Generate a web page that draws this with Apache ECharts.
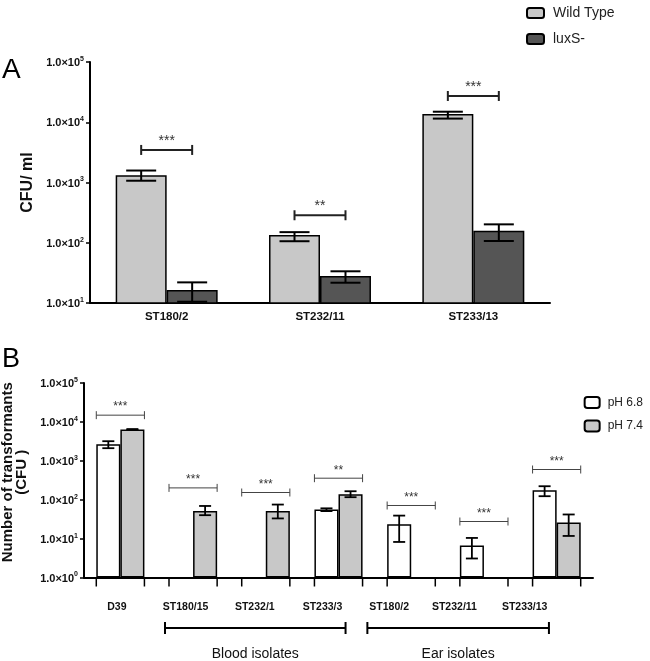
<!DOCTYPE html>
<html><head><meta charset="utf-8">
<script src="https://cdn.jsdelivr.net/npm/echarts@6/dist/echarts.min.js"></script>
<style>html,body{margin:0;padding:0;background:#fff}#c{width:650px;height:661px}</style>
</head><body><div id="c"></div>
<script>
// ---------- Panel A data ----------
const catsA = ['ST180/2', 'ST232/11', 'ST233/13'];
const wildType = [1320, 135, 13700];
const wildTypeErr = [[1070, 1580], [106, 150], [11500, 14960]];
const luxS = [16.4, 28, 158];
const luxSErr = [[10.5, 22], [21.7, 33.6], [107, 202]];
const sigA = ['***', '**', '***'];
const sigAHeight = [3470, 286, 27300];

// ---------- Panel B data ----------
const catsB = ['D39', 'ST180/15', 'ST232/1', 'ST233/3', 'ST180/2', 'ST232/11', 'ST233/13'];
const ph68 = [2670, null, null, 56, 23.5, 6.65, 175];
const ph68Err = [[2110, 3190], null, null, [51, 60], [8.2, 39], [3.08, 10.4], [123, 222]];
const ph74 = [6380, 51.5, 51.5, 138, null, null, 26];
const ph74Err = [[6200, 6550], [40, 69], [33, 75], [116, 165], null, null, [11.7, 41.7]];
const sigB = ['***', '***', '***', '**', '***', '***', '***'];
const sigBHeight = [14900, 201, 153, 357, 71, 27.5, 597];
const groupNames = ['Blood isolates', 'Ear isolates'];
const groupFrom = [1, 4];
const groupTo = [3, 6];

// ---------- styling constants ----------
const GAP_A = 0.335, GAP_B = 0.338;
const labelShiftB = [3.5, 7.5, 11, 16, 22, 29.5, 32];
const groupOffsets = [[-0.386, 0.097], [-0.603, -0.106]];
const FONT = 'Liberation Sans, Arial, sans-serif';

function yFmt(v) {
  const e = Math.round(Math.log10(v));
  return '{b|1.0×10}{s|' + e + '}';
}
const yRich = {
  b: { fontFamily: FONT, fontWeight: 'bold', fontSize: 11, color: '#111', lineHeight: 13, verticalAlign: 'bottom' },
  s: { fontFamily: FONT, fontWeight: 'bold', fontSize: 7, color: '#111', lineHeight: 13, verticalAlign: 'top' }
};

function errSeries(errs, xi, yi, side, gap, capW, lw) {
  const data = [];
  errs.forEach((e, i) => { if (e) data.push([i, e[0], e[1]]); });
  return {
    type: 'custom', xAxisIndex: xi, yAxisIndex: yi, z: 5, silent: true,
    data: data, encode: { x: 0, y: [1, 2] },
    renderItem(params, api) {
      const i = api.value(0);
      const p1 = api.coord([i, api.value(1)]);
      const p2 = api.coord([i, api.value(2)]);
      const cw = api.size([1, 1])[0];
      const bw = cw * (1 - gap) / 2;
      const x = p1[0] + side * bw / 2;
      const st = { stroke: '#000', lineWidth: lw };
      return { type: 'group', children: [
        { type: 'line', shape: { x1: x, y1: p1[1], x2: x, y2: p2[1] }, style: st },
        { type: 'line', shape: { x1: x - capW / 2, y1: p1[1], x2: x + capW / 2, y2: p1[1] }, style: st },
        { type: 'line', shape: { x1: x - capW / 2, y1: p2[1], x2: x + capW / 2, y2: p2[1] }, style: st }
      ] };
    }
  };
}

function sigSeries(labels, heights, xi, yi, gap, spanFrac, capH, lw, color, fs, textGap, edgeTicks, yMin) {
  return {
    type: 'custom', xAxisIndex: xi, yAxisIndex: yi, z: 6, silent: true,
    data: heights.map((h, i) => [i, h]), encode: { x: 0, y: 1 },
    renderItem(params, api) {
      const i = api.value(0);
      const p = api.coord([i, api.value(1)]);
      const cw = api.size([1, 1])[0];
      const bw = cw * (1 - gap) / 2;
      const half = bw * spanFrac;
      const st = { stroke: color, lineWidth: lw };
      const ch = [
        { type: 'line', shape: { x1: p[0] - half, y1: p[1], x2: p[0] + half, y2: p[1] }, style: st },
        { type: 'line', shape: { x1: p[0] - half, y1: p[1] - capH, x2: p[0] - half, y2: p[1] + capH }, style: st },
        { type: 'line', shape: { x1: p[0] + half, y1: p[1] - capH, x2: p[0] + half, y2: p[1] + capH }, style: st },
        { type: 'text', x: p[0], y: p[1] - textGap, style: { text: labels[params.dataIndex], fill: '#333', font: fs + 'px ' + FONT, align: 'center', verticalAlign: 'bottom' } }
      ];
      if (edgeTicks) {
        const a = api.coord([i, yMin]);
        [-bw, bw].forEach(d => ch.push({ type: 'line', shape: { x1: a[0] + d, y1: a[1], x2: a[0] + d, y2: a[1] + 9 }, style: { stroke: '#000', lineWidth: 1.5 } }));
      }
      return { type: 'group', children: ch };
    }
  };
}

const chart = echarts.init(document.getElementById('c'), null, { renderer: 'canvas' });

const option = {
  animation: false,
  backgroundColor: '#fff',
  textStyle: { fontFamily: FONT },
  grid: [
    { left: 90, right: 100, top: 62, height: 241, containLabel: false, outerBoundsMode: 'none' },
    { left: 84, right: 57, top: 383, height: 194.5, containLabel: false, outerBoundsMode: 'none' }
  ],
  legend: [
    { data: ['Wild Type', 'luxS-'], orient: 'vertical', left: 521, top: 1, itemWidth: 17, itemHeight: 10, itemGap: 12,
      textStyle: { fontFamily: FONT, fontSize: 14, color: '#222', padding: [0, 0, 0, 4] }, icon: 'roundRect', selectedMode: false },
    { data: ['pH 6.8', 'pH 7.4'], orient: 'vertical', right: 2, top: 391, itemWidth: 15, itemHeight: 11, itemGap: 10.5,
      textStyle: { fontFamily: FONT, fontSize: 12, color: '#222', padding: [0, 0, 0, 3] }, icon: 'roundRect', selectedMode: false }
  ],
  xAxis: [
    { type: 'category', gridIndex: 0, data: catsA,
      axisLine: { lineStyle: { color: '#000', width: 2 } },
      axisTick: { alignWithLabel: true, length: 4, lineStyle: { color: '#000', width: 2 } },
      axisLabel: { fontFamily: FONT, fontWeight: 'bold', fontSize: 11.5, color: '#111', margin: 8 } },
    { type: 'category', gridIndex: 1, data: catsB,
      axisLine: { lineStyle: { color: '#000', width: 2 } },
      axisTick: { show: false },
      axisLabel: { margin: 24, interval: 0,
        formatter: (v, i) => '{l' + i + '|' + v + '}',
        rich: Object.fromEntries(labelShiftB.map((s, i) => ['l' + i, { fontFamily: FONT, fontWeight: 'bold', fontSize: 10.5, color: '#111', padding: [0, 2 * s, 0, 0] }])) } }
  ],
  yAxis: [
    { type: 'log', logBase: 10, gridIndex: 0, min: 10, max: 100000,
      name: 'CFU/ ml', nameLocation: 'middle', nameRotate: 90, nameGap: 54,
      nameTextStyle: { fontFamily: FONT, fontWeight: 'bold', fontSize: 16, color: '#111' },
      axisLine: { show: true, lineStyle: { color: '#000', width: 2 } },
      axisTick: { show: true, length: 4, lineStyle: { color: '#000', width: 1.5 } },
      splitLine: { show: false }, minorTick: { show: false },
      axisLabel: { formatter: yFmt, rich: yRich, margin: 6 } },
    { type: 'log', logBase: 10, gridIndex: 1, min: 1, max: 100000,
      name: 'Number of transformants\n(CFU )', nameLocation: 'middle', nameRotate: 90, nameGap: 49,
      nameTextStyle: { fontFamily: FONT, fontWeight: 'bold', fontSize: 15, color: '#111', lineHeight: 14, padding: [0, 0, 0, 16] },
      axisLine: { show: true, lineStyle: { color: '#000', width: 2 } },
      axisTick: { show: true, length: 4, lineStyle: { color: '#000', width: 1.5 } },
      splitLine: { show: false }, minorTick: { show: false },
      axisLabel: { formatter: yFmt, rich: yRich, margin: 6 } }
  ],
  graphic: [
    { type: 'text', left: 2, top: 56, style: { text: 'A', font: '28px ' + FONT, fill: '#000' } },
    { type: 'text', left: 2, top: 346, style: { text: 'B', font: '27px ' + FONT, fill: '#000' } }
  ],
  series: [
    { name: 'Wild Type', type: 'bar', xAxisIndex: 0, yAxisIndex: 0, data: wildType, barGap: '0%', barCategoryGap: (GAP_A * 100) + '%',
      itemStyle: { color: '#c8c8c8', borderColor: '#000', borderWidth: 1.5 } },
    { name: 'luxS-', type: 'bar', xAxisIndex: 0, yAxisIndex: 0, data: luxS, barGap: '0%', barCategoryGap: (GAP_A * 100) + '%',
      itemStyle: { color: '#555555', borderColor: '#000', borderWidth: 1.5 } },
    errSeries(wildTypeErr, 0, 0, -1, GAP_A, 30, 2),
    errSeries(luxSErr, 0, 0, 1, GAP_A, 30, 2),
    sigSeries(sigA, sigAHeight, 0, 0, GAP_A, 0.5, 5, 2, '#222', 14, 2, false, 10),

    { name: 'pH 6.8', type: 'bar', xAxisIndex: 1, yAxisIndex: 1, data: ph68, barGap: '0%', barCategoryGap: (GAP_B * 100) + '%',
      itemStyle: { color: '#ffffff', borderColor: '#000', borderWidth: 1.5 } },
    { name: 'pH 7.4', type: 'bar', xAxisIndex: 1, yAxisIndex: 1, data: ph74, barGap: '0%', barCategoryGap: (GAP_B * 100) + '%',
      itemStyle: { color: '#c8c8c8', borderColor: '#000', borderWidth: 1.5 } },
    errSeries(ph68Err, 1, 1, -1, GAP_B, 12, 1.8),
    errSeries(ph74Err, 1, 1, 1, GAP_B, 12, 1.8),
    sigSeries(sigB, sigBHeight, 1, 1, GAP_B, 1, 4, 1, '#444', 12, 2, true, 1),
    { type: 'custom', xAxisIndex: 1, yAxisIndex: 1, silent: true, z: 6,
      data: groupFrom.map((f, i) => [f, groupTo[i]]), encode: { x: [0, 1] },
      renderItem(params, api) {
        const k = params.dataIndex;
        const a = api.coord([api.value(0), 1]);
        const b = api.coord([api.value(1), 1]);
        const cw = api.size([1, 1])[0];
        const x1 = a[0] + groupOffsets[k][0] * cw, x2 = b[0] + groupOffsets[k][1] * cw;
        const y = a[1] + 50.5;
        const st = { stroke: '#000', lineWidth: 2 };
        return { type: 'group', children: [
          { type: 'line', shape: { x1: x1, y1: y, x2: x2, y2: y }, style: st },
          { type: 'line', shape: { x1: x1, y1: y - 6, x2: x1, y2: y + 6 }, style: st },
          { type: 'line', shape: { x1: x2, y1: y - 6, x2: x2, y2: y + 6 }, style: st },
          { type: 'text', x: (x1 + x2) / 2, y: y + 26, style: { text: groupNames[k], fill: '#111', font: '14px ' + FONT, align: 'center', verticalAlign: 'middle' } }
        ] };
      } }
  ]
};
chart.setOption(option);
</script></body></html>
